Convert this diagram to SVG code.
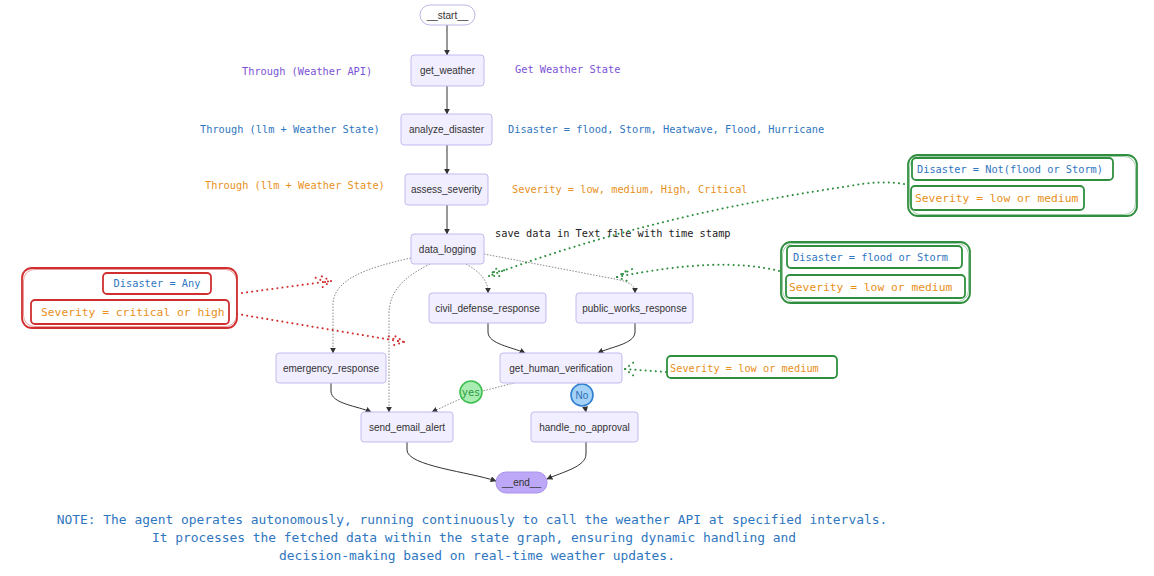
<svg xmlns="http://www.w3.org/2000/svg" width="1154" height="576" viewBox="0 0 1154 576">
  <style>
    .node rect { fill: #f1eeff; stroke: #c5b9ee; stroke-width: 1; }
    .node text { font-family: "Liberation Sans", Arial, sans-serif; font-size: 10px; fill: #333; text-anchor: middle; }
    .edge { fill: none; stroke: #333; stroke-width: 1; }
    .edge.dot { stroke: #888; stroke-dasharray: 1.5 1.5; }
    .mono { font-family: "DejaVu Sans Mono", "Liberation Mono", monospace; font-size: 10.3px; }
    .purple { fill: #7b52d6; }
    .blue { fill: #2f76c0; }
    .orange { fill: #e8901b; }
    .ink { fill: #222; }
    .sev { font-size: 11.3px; }
    .red-box { fill: none; stroke: #d12f2f; stroke-width: 1.8; }
    .green-box { fill: none; stroke: #2f8f3f; stroke-width: 1.8; }
    .sketch { stroke-width: 0.8; opacity: 0.6; }
    .red-arrow { fill: none; stroke: #d12f2f; stroke-width: 2; stroke-dasharray: 0.1 5; stroke-linecap: round; }
    .green-arrow { fill: none; stroke: #2f8f3f; stroke-width: 2; stroke-dasharray: 0.1 5; stroke-linecap: round; }
    .note { font-family: "DejaVu Sans Mono", "Liberation Mono", monospace; font-size: 12.9px; fill: #2f76c0; text-anchor: middle; }
  </style>
  <defs>
    <marker id="tip" viewBox="0 0 10 10" refX="9" refY="5" markerWidth="6" markerHeight="6" orient="auto">
      <path d="M0,0 L10,5 L0,10 z" fill="#333"/>
    </marker>
  </defs>

  <rect width="1154" height="576" fill="#ffffff"/>

  <!-- connectors -->
  <g id="connectors">
    <path class="edge" d="M447,25 L447,55" marker-end="url(#tip)"/>
    <path class="edge" d="M447,86 L447,114" marker-end="url(#tip)"/>
    <path class="edge" d="M447,145 L447,174" marker-end="url(#tip)"/>
    <path class="edge" d="M447,205 L447,234" marker-end="url(#tip)"/>
    <path class="edge dot" d="M411,258 C365,268 333,280 333,305 L333,353" marker-end="url(#tip)"/>
    <path class="edge dot" d="M430,264 C402,278 389,292 389,315 L389,412" marker-end="url(#tip)"/>
    <path class="edge dot" d="M466,264 C480,272 488,280 488,293" marker-end="url(#tip)"/>
    <path class="edge dot" d="M484,254 L620,280 C632,283 635,287 635,293" marker-end="url(#tip)"/>
    <path class="edge" d="M488,323 L488,332 C488,344 512,347 525,353" marker-end="url(#tip)"/>
    <path class="edge" d="M635,323 L635,332 C635,344 610,347 598,353" marker-end="url(#tip)"/>
    <path class="edge" d="M331,383 L331,391 C331,404 358,406 371,412" marker-end="url(#tip)"/>
    <path class="edge dot" d="M514,383 L471,394 L432,412" marker-end="url(#tip)"/>
    <path class="edge dot" d="M578,383 L583,395 L586,412" marker-end="url(#tip)"/>
    <path class="edge" d="M407,442 L407,450 C407,466 470,472 496,481" marker-end="url(#tip)"/>
    <path class="edge" d="M586,442 L586,454 C586,467 562,472 547,479" marker-end="url(#tip)"/>
  </g>

  <!-- edge labels -->
  <g id="label-yes">
    <circle cx="471" cy="392" r="11" fill="#a9ecb2" stroke="#3cbf4f" stroke-width="1.6"/>
    <text x="471" y="396" class="mono" font-size="10" fill="#2e9c40" text-anchor="middle">yes</text>
  </g>
  <g id="label-no">
    <circle cx="582" cy="395" r="11" fill="#a3d2f6" stroke="#2f7fd0" stroke-width="1.6"/>
    <text x="582" y="399" font-family="Liberation Sans, Arial, sans-serif" font-size="10" fill="#2f6fb4" text-anchor="middle">No</text>
  </g>

  <!-- nodes -->
  <g id="start" class="node">
    <rect x="420" y="5" width="55" height="20" rx="10" style="fill:#fff;stroke:#c0b6e4"/>
    <text x="447.5" y="18.5">__start__</text>
  </g>
  <g id="get_weather" class="node">
    <rect x="411" y="55" width="73" height="31" rx="3"/>
    <text x="447.5" y="74">get_weather</text>
  </g>
  <g id="analyze_disaster" class="node">
    <rect x="401" y="114" width="91" height="31" rx="3"/>
    <text x="446.5" y="133">analyze_disaster</text>
  </g>
  <g id="assess_severity" class="node">
    <rect x="405" y="174" width="83" height="31" rx="3"/>
    <text x="446.5" y="193">assess_severity</text>
  </g>
  <g id="data_logging" class="node">
    <rect x="411" y="234" width="73" height="30" rx="3"/>
    <text x="447.5" y="252.5">data_logging</text>
  </g>
  <g id="civil_defense_response" class="node">
    <rect x="429" y="293" width="117" height="30" rx="3"/>
    <text x="487.5" y="311.5">civil_defense_response</text>
  </g>
  <g id="public_works_response" class="node">
    <rect x="576" y="293" width="117" height="30" rx="3"/>
    <text x="634.5" y="311.5">public_works_response</text>
  </g>
  <g id="emergency_response" class="node">
    <rect x="276" y="353" width="110" height="30" rx="3"/>
    <text x="331" y="371.5">emergency_response</text>
  </g>
  <g id="get_human_verification" class="node">
    <rect x="500" y="353" width="122" height="30" rx="3"/>
    <text x="561" y="371.5">get_human_verification</text>
  </g>
  <g id="send_email_alert" class="node">
    <rect x="361" y="412" width="92" height="30" rx="3"/>
    <text x="407" y="430.5">send_email_alert</text>
  </g>
  <g id="handle_no_approval" class="node">
    <rect x="531" y="412" width="107" height="30" rx="3"/>
    <text x="584.5" y="430.5">handle_no_approval</text>
  </g>
  <g id="end" class="node">
    <rect x="496" y="472" width="51" height="21" rx="10" style="fill:#bca8f6;stroke:#a993ee"/>
    <text x="521.5" y="486">__end__</text>
  </g>

  <!-- side notes -->
  <g id="side-notes" class="mono">
    <text x="242" y="75" class="purple">Through (Weather API)</text>
    <text x="515" y="73" class="purple">Get Weather State</text>
    <text x="200" y="133" class="blue">Through (llm + Weather State)</text>
    <text x="508" y="133" class="blue">Disaster = flood, Storm, Heatwave, Flood, Hurricane</text>
    <text x="205" y="189" class="orange">Through (llm + Weather State)</text>
    <text x="512" y="193" class="orange">Severity = low, medium, High, Critical</text>
    <text x="495" y="237" class="ink">save data in Text file with time stamp</text>
  </g>

  <!-- condition: any disaster, critical/high severity -->
  <g id="cond-emergency">
    <rect class="red-box" x="22" y="268" width="215" height="60" rx="10"/>
    <rect class="red-box sketch" x="23.5" y="269.5" width="213" height="57" rx="11"/>
    <rect class="red-box" x="103" y="273" width="108" height="21" rx="4"/>
    <rect class="red-box" x="31" y="300" width="198" height="24" rx="4"/>
    <text x="157" y="287" class="mono blue" text-anchor="middle">Disaster = Any</text>
    <text x="41" y="316" class="mono orange sev">Severity = critical or high</text>
    <path class="red-arrow" d="M242,293 L331,281"/>
    <path class="red-arrow" d="M331,281 L319,275 M331,281 L320,289 M325,282 L314,277"/>
    <path class="red-arrow" d="M237,314 L404,342"/>
    <path class="red-arrow" d="M404,342 L392,334 M404,342 L391,346 M398,341 L386,335"/>
  </g>

  <!-- condition: other disasters, low/medium severity -->
  <g id="cond-civil">
    <rect class="green-box" x="908" y="155" width="229" height="61" rx="10"/>
    <rect class="green-box sketch" x="909.5" y="156.5" width="226" height="58" rx="11"/>
    <rect class="green-box" x="912" y="158" width="201" height="22" rx="4"/>
    <rect class="green-box" x="911" y="186" width="173" height="24" rx="4"/>
    <text x="917" y="173" class="mono blue" font-size="10.6">Disaster = Not(flood or Storm)</text>
    <text x="915" y="202" class="mono orange sev">Severity = low or medium</text>
    <path class="green-arrow" d="M904,184 Q880,180 850,186 Q650,215 489,276"/>
    <path class="green-arrow" d="M489,276 L499,266 M489,276 L503,276 M494,272 L506,270"/>
  </g>

  <!-- condition: flood or storm, low/medium severity -->
  <g id="cond-public">
    <rect class="green-box" x="781" y="242" width="189" height="61" rx="10"/>
    <rect class="green-box sketch" x="782.5" y="243.5" width="186" height="58" rx="11"/>
    <rect class="green-box" x="787" y="246" width="175" height="22" rx="4"/>
    <rect class="green-box" x="786" y="275" width="179" height="23" rx="4"/>
    <text x="793" y="261" class="mono blue">Disaster = flood or Storm</text>
    <text x="789" y="291" class="mono orange sev">Severity = low or medium</text>
    <path class="green-arrow" d="M779,271 Q720,256 617,277"/>
    <path class="green-arrow" d="M617,277 L629,269 M617,277 L630,282 M623,274 L634,268"/>
  </g>

  <!-- condition: human check for low/medium severity -->
  <g id="cond-verify">
    <rect class="green-box" x="667" y="356" width="170" height="22" rx="4"/>
    <text x="670" y="372" class="mono orange" font-size="11.2">Severity = low or medium</text>
    <path class="green-arrow" d="M666,372 L625,369"/>
    <path class="green-arrow" d="M625,369 L634,362 M625,369 L634,376"/>
  </g>

  <!-- footnote -->
  <g id="footnote" class="note">
    <text x="472" y="524">NOTE: The agent operates autonomously, running continuously to call the weather API at specified intervals.</text>
    <text x="474" y="542">It processes the fetched data within the state graph, ensuring dynamic handling and</text>
    <text x="477" y="560">decision-making based on real-time weather updates.</text>
  </g>
</svg>
